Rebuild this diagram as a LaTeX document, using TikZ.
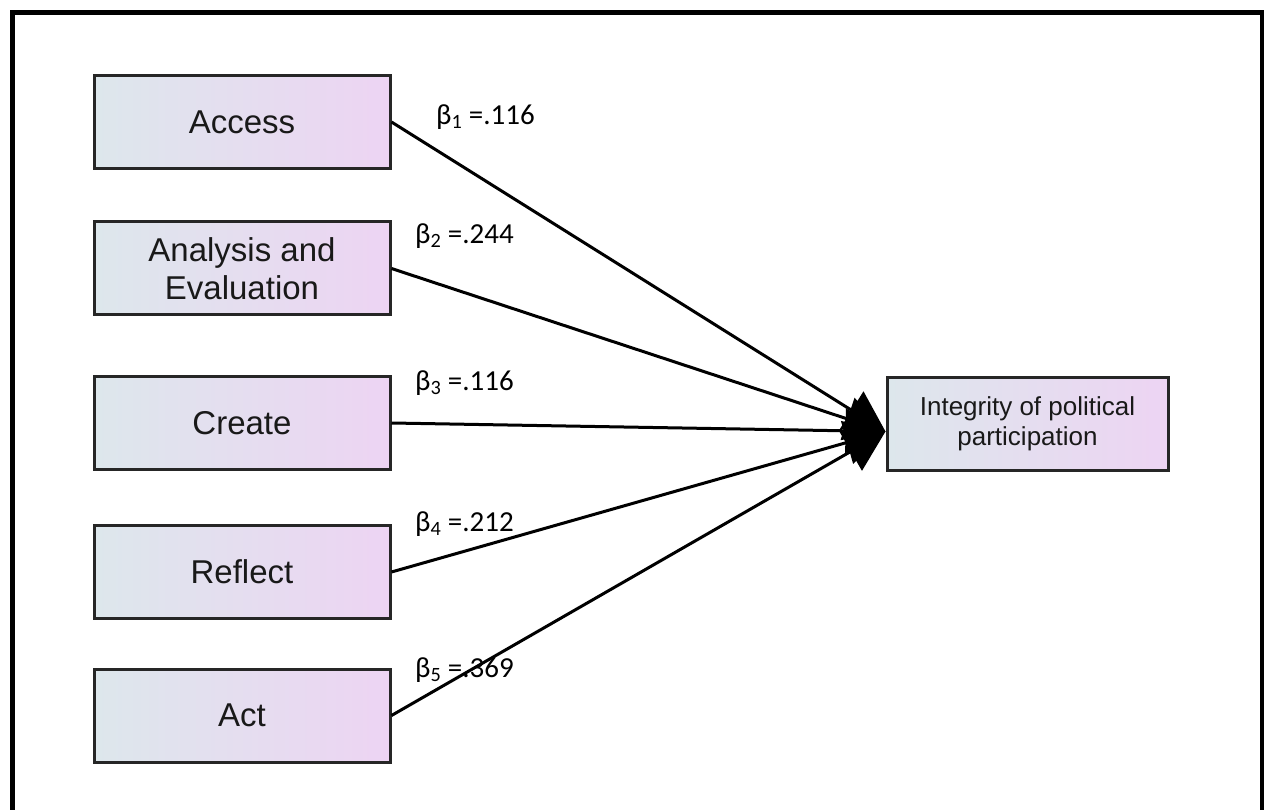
\documentclass[tikz,border=0pt]{standalone}
\usepackage{fontspec}
\setmainfont{Liberation Sans}
\newfontfamily\coeffont{Carlito}
\usetikzlibrary{arrows.meta}
\definecolor{boxleft}{RGB}{221,231,236}
\definecolor{boxright}{RGB}{237,212,243}

\begin{document}
\begin{tikzpicture}[x=1pt,y=-1pt,>={Triangle[length=40pt,width=44pt]},
        factor/.style={draw=black!85,line width=3pt,left color=boxleft,right color=boxright,
            minimum width=296pt,minimum height=93pt,inner sep=0pt,align=center,
            text=black!90,font=\fontsize{33}{38}\selectfont},
        outcome/.style={factor,minimum width=281pt,font=\fontsize{26}{30}\selectfont},
        coef/.style={anchor=west,inner sep=0pt,font=\coeffont\fontsize{29}{34}\selectfont},
        path/.style={->,line width=3pt}]
        % page and frame
        \useasboundingbox (0,0) rectangle (1264,810);
        \draw[line width=5pt] (12,830) -- (12,13) -- (1262,13) -- (1262,830);

        % the five factors
        \node[factor] (access)   at (242,122)   {Access};
        \node[factor] (analysis) at (242,268.5) {Analysis and\\Evaluation};
        \node[factor] (create)   at (242,423)   {Create};
        \node[factor] (reflect)  at (242,572)   {Reflect};
        \node[factor] (act)      at (242,715.5) {Act};

        % the outcome
        \node[outcome] (integrity) at (1027.5,423.5) {Integrity of political\\participation};

        % the paths, all meeting a little below the middle of the outcome
        \foreach \src in {access,analysis,create,reflect,act}
                \draw[path] (\src.east) -- ([yshift=-8pt]integrity.west);

        % the coefficients
        \node[coef] (b1) at (436,117) {β\textsubscript{1} =.116};
        \node[coef] (b2) at (415,236) {β\textsubscript{2} =.244};
        \node[coef] (b3) at (415,383) {β\textsubscript{3} =.116};
        \node[coef] (b4) at (415,524) {β\textsubscript{4} =.212};
        \node[coef] (b5) at (415,670) {β\textsubscript{5} =.369};
\end{tikzpicture}
\end{document}
